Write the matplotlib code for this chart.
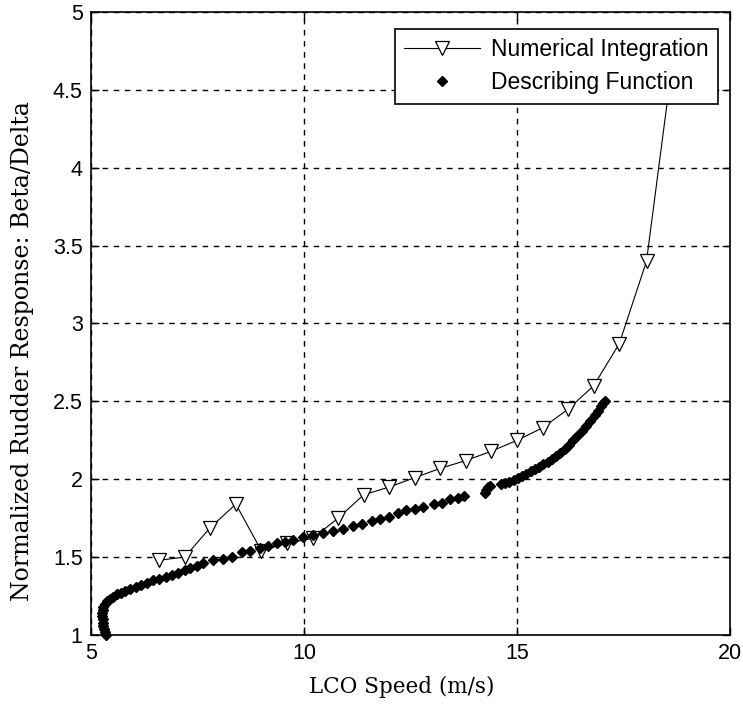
import matplotlib
matplotlib.use("Agg")
import matplotlib.pyplot as plt

# Numerical Integration (hollow down-triangles joined by a thin line)
ni_speed = [6.6, 7.2, 7.8, 8.4, 9.0, 9.6, 10.2, 10.8, 11.4, 12.0, 12.6,
            13.2, 13.8, 14.4, 15.0, 15.6, 16.2, 16.8, 17.4, 18.04, 18.64]
ni_resp = [1.48, 1.50, 1.69, 1.84, 1.54, 1.59, 1.62, 1.75, 1.90, 1.95, 2.01,
           2.07, 2.12, 2.18, 2.25, 2.33, 2.45, 2.60, 2.87, 3.40, 4.66]

# Describing Function (filled diamonds)
df_speed = [5.34, 5.32, 5.30, 5.29, 5.28, 5.27, 5.26, 5.26, 5.27, 5.29,
            5.33, 5.38, 5.45, 5.52, 5.60, 5.70, 5.80, 5.92, 6.05, 6.18,
            6.32, 6.46, 6.60, 6.75, 6.90, 7.05, 7.20, 7.32, 7.48, 7.64,
            7.87, 8.11, 8.30, 8.54, 8.73, 8.97, 9.16, 9.36, 9.55, 9.75,
            9.98, 10.22, 10.45, 10.69, 10.92, 11.16, 11.35, 11.59, 11.78, 12.00,
            12.20, 12.40, 12.60, 12.80, 13.04, 13.23, 13.43, 13.62, 13.76,
            14.24, 14.27, 14.31, 14.36, 14.62, 14.72, 14.82, 14.92, 15.02, 15.12,
            15.22, 15.32, 15.42, 15.52, 15.62, 15.72, 15.82, 15.92, 16.02, 16.12,
            16.22, 16.32, 16.42, 16.52, 16.62, 16.72, 16.82, 16.90, 16.97, 17.03,
            17.07]
df_resp = [1.00, 1.02, 1.04, 1.06, 1.08, 1.10, 1.12, 1.14, 1.16, 1.18,
           1.20, 1.215, 1.23, 1.245, 1.26, 1.27, 1.28, 1.295, 1.31, 1.32,
           1.335, 1.35, 1.36, 1.37, 1.385, 1.40, 1.415, 1.43, 1.445, 1.46,
           1.48, 1.49, 1.50, 1.53, 1.54, 1.56, 1.57, 1.59, 1.60, 1.61,
           1.63, 1.645, 1.655, 1.67, 1.68, 1.70, 1.715, 1.73, 1.745, 1.76,
           1.78, 1.80, 1.81, 1.82, 1.84, 1.85, 1.87, 1.88, 1.89,
           1.91, 1.93, 1.95, 1.955, 1.97, 1.975, 1.985, 1.995, 2.01, 2.02,
           2.035, 2.05, 2.065, 2.08, 2.095, 2.11, 2.13, 2.15, 2.17, 2.195,
           2.22, 2.25, 2.28, 2.31, 2.34, 2.375, 2.41, 2.44, 2.47, 2.49,
           2.50]

x_ticks = [5, 10, 15, 20]
y_ticks = [1, 1.5, 2, 2.5, 3, 3.5, 4, 4.5, 5]
y_tick_labels = ["1", "1.5", "2", "2.5", "3", "3.5", "4", "4.5", "5"]

fig = plt.figure(figsize=(7.43, 7.06), dpi=100)
ax = fig.add_axes([0.1225, 0.1006, 0.86, 0.8824])

ax.plot(ni_speed, ni_resp, color="black", linewidth=0.8, marker="v",
        markersize=10.5, markerfacecolor="white", markeredgecolor="black",
        markeredgewidth=0.9, label="Numerical Integration", zorder=3)
ax.plot(df_speed, df_resp, linestyle="none", marker="D", markersize=5.5,
        color="black", label="Describing Function", zorder=4, clip_on=False)

ax.set_xlim(5, 20)
ax.set_ylim(1, 5)
ax.set_xticks(x_ticks)
ax.set_yticks(y_ticks)
ax.set_yticklabels(y_tick_labels)
ax.grid(True, color="black", linestyle=(0, (4, 4)), linewidth=1.0)
ax.set_axisbelow(True)
ax.tick_params(direction="in", top=True, right=True, length=6, width=1,
               labelsize=15.5, pad=6)
for lbl in ax.get_xticklabels() + ax.get_yticklabels():
    lbl.set_family("Liberation Sans")
for sp in ax.spines.values():
    sp.set_linewidth(1.2)

ax.set_xlabel("LCO Speed (m/s)", family="DejaVu Serif", fontsize=15.5)
ax.set_ylabel("Normalized Rudder Response: Beta/Delta", family="DejaVu Serif",
              fontsize=17)
ax.xaxis.set_label_coords(0.487, -0.066)
ax.yaxis.set_label_coords(-0.090, 0.456)

leg = ax.legend(loc="upper right", bbox_to_anchor=(718 / 743, 1 - 29 / 706),
                bbox_transform=fig.transFigure, borderaxespad=0,
                fancybox=False, framealpha=1, edgecolor="black",
                prop={"family": "Liberation Sans", "size": 16.5},
                handlelength=3.3, borderpad=0.4, labelspacing=0.45,
                handletextpad=0.5)
leg.get_frame().set_linewidth(1.2)

fig.savefig("out.png", dpi=100)
